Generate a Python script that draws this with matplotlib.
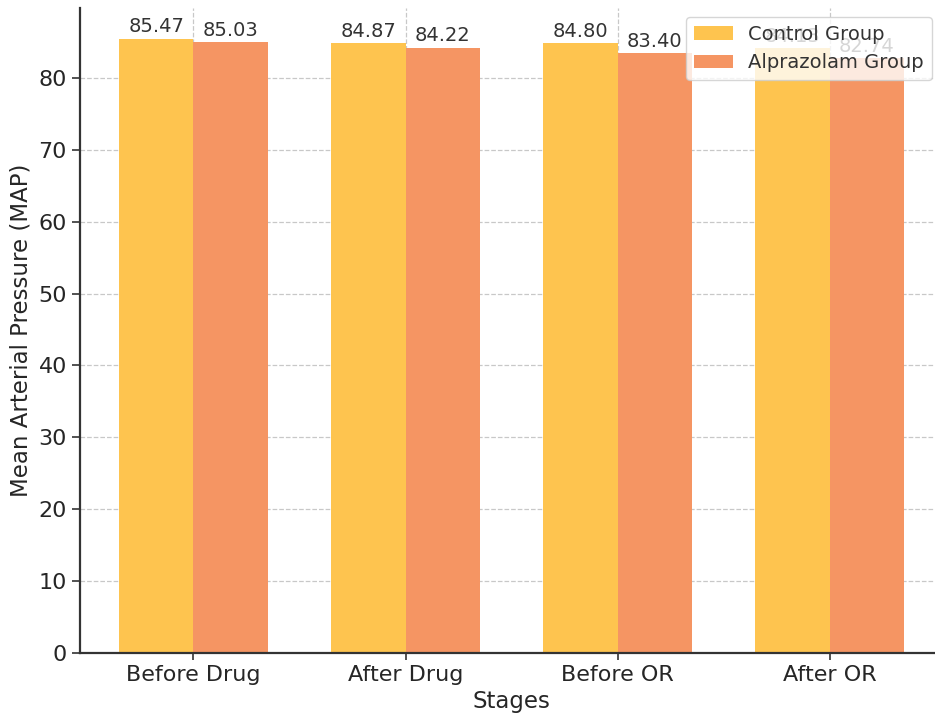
import numpy as np
import matplotlib.pyplot as plt

stages = ["Before Drug", "After Drug", "Before OR", "After OR"]
control = [85.47, 84.87, 84.80, 84.13]
alprazolam = [85.03, 84.22, 83.40, 82.74]

width = 0.35
x = np.arange(len(stages))

fig = plt.figure(figsize=(9.35, 7.16), dpi=100)
ax = fig.add_axes([0.0856, 0.088, 0.923, 0.901])

b1 = ax.bar(x - width / 2, control, width, color="#FEC44F", label="Control Group", zorder=2)
b2 = ax.bar(x + width / 2, alprazolam, width, color="#F59563", label="Alprazolam Group", zorder=2)

for bars in (b1, b2):
    for bar in bars:
        h = bar.get_height()
        ax.text(bar.get_x() + bar.get_width() / 2, h + 0.3, f"{h:.2f}",
                ha="center", va="bottom", fontsize=14, color="#333333", zorder=3)

ax.set_xticks(x)
ax.set_xticklabels(stages, fontsize=16, color="#262626")
ax.tick_params(axis="y", labelsize=16, labelcolor="#262626", length=6, width=1.2, color="#333333")
ax.tick_params(axis="x", length=5, width=1.2, color="#333333")
ax.set_xlabel("Stages", fontsize=16.5, color="#262626", labelpad=4)
ax.set_ylabel("Mean Arterial Pressure (MAP)", fontsize=16.5, color="#262626")

ax.grid(True, linestyle="--", color="#c8c8c8", linewidth=0.9, zorder=0)
ax.set_axisbelow(True)
for side in ("top", "right"):
    ax.spines[side].set_visible(False)
for side in ("left", "bottom"):
    ax.spines[side].set_linewidth(1.6)
    ax.spines[side].set_color("#333333")

leg = ax.legend(loc="upper right", bbox_to_anchor=(0.987, 0.986), borderaxespad=0,
                fontsize=14, framealpha=0.8, edgecolor="#cccccc")
for t in leg.get_texts():
    t.set_color("#333333")

fig.savefig("out.png", dpi=100)
